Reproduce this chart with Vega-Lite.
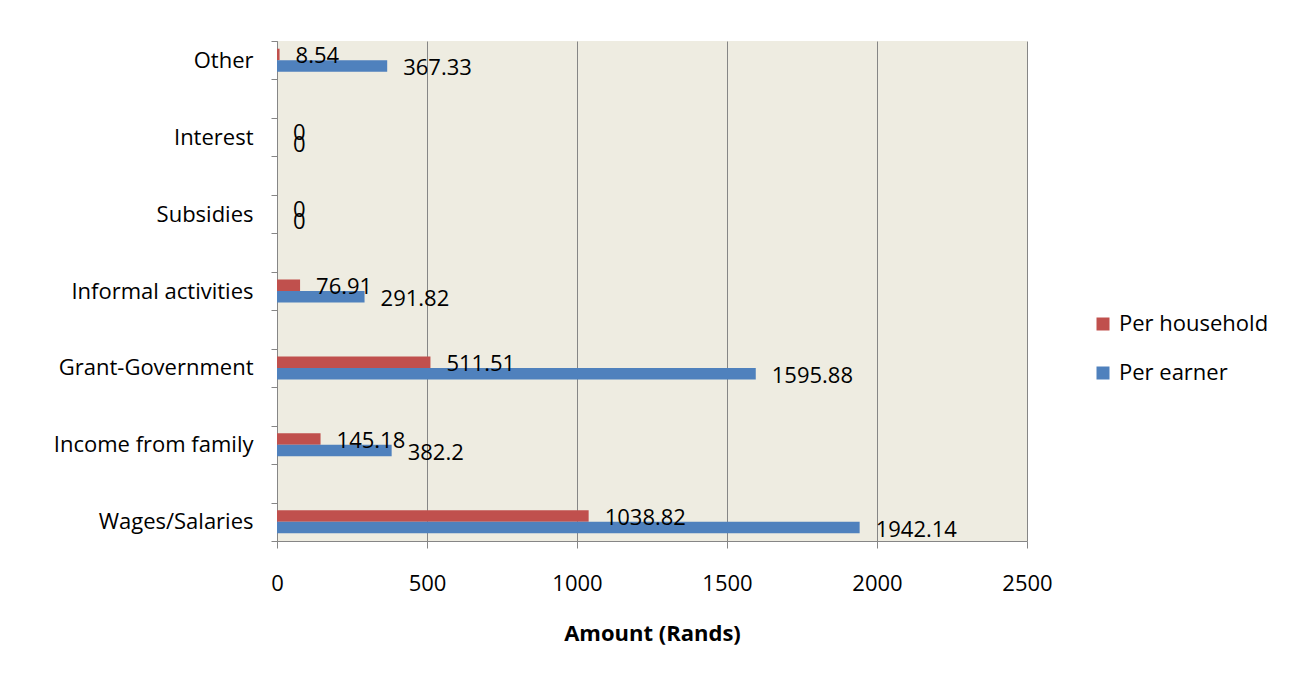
{
  "$schema": "https://vega.github.io/schema/vega-lite/v6.json",
  "width": 750,
  "height": 500,
  "autosize": {"type": "none"},
  "padding": {"left": 277, "top": 41, "right": 262, "bottom": 138},
  "background": "white",
  "config": {
    "view": {"fill": "#EEECE1", "stroke": null},
    "font": "Open Sans"
  },
  "data": {
    "values": [
      {"category": "Other", "series": "Per household", "value": 8.54},
      {"category": "Other", "series": "Per earner", "value": 367.33},
      {"category": "Interest", "series": "Per household", "value": 0},
      {"category": "Interest", "series": "Per earner", "value": 0},
      {"category": "Subsidies", "series": "Per household", "value": 0},
      {"category": "Subsidies", "series": "Per earner", "value": 0},
      {"category": "Informal activities", "series": "Per household", "value": 76.91},
      {"category": "Informal activities", "series": "Per earner", "value": 291.82},
      {"category": "Grant-Government", "series": "Per household", "value": 511.51},
      {"category": "Grant-Government", "series": "Per earner", "value": 1595.88},
      {"category": "Income from family", "series": "Per household", "value": 145.18},
      {"category": "Income from family", "series": "Per earner", "value": 382.2},
      {"category": "Wages/Salaries", "series": "Per household", "value": 1038.82},
      {"category": "Wages/Salaries", "series": "Per earner", "value": 1942.14}
    ]
  },
  "encoding": {
    "y": {
      "field": "category",
      "type": "nominal",
      "scale": {
        "domain": ["Other", "gap1", "Interest", "gap2", "Subsidies", "gap3", "Informal activities", "gap4", "Grant-Government", "gap5", "Income from family", "gap6", "Wages/Salaries"],
        "paddingInner": 0,
        "paddingOuter": 0
      },
      "axis": {
        "title": null,
        "tickBand": "extent",
        "ticks": true,
        "tickSize": 6,
        "tickColor": "#868686",
        "domainColor": "#868686",
        "labelFontSize": 22,
        "labelColor": "#000000",
        "labelPadding": 18,
        "labelLimit": 0,
        "grid": false,
        "labelExpr": "slice(datum.label, 0, 3) == 'gap' ? '' : datum.label"
      }
    },
    "yOffset": {
      "field": "series",
      "type": "nominal",
      "scale": {"domain": ["Per household", "Per earner"], "paddingInner": 0, "paddingOuter": 0.67}
    },
    "x": {
      "field": "value",
      "type": "quantitative",
      "scale": {"domain": [0, 2500], "nice": false},
      "axis": {
        "values": [0, 500, 1000, 1500, 2000, 2500],
        "format": "d",
        "labelFlush": false,
        "labelOverlap": false,
        "grid": true,
        "gridColor": "#868686",
        "gridOpacity": 1,
        "domainColor": "#868686",
        "tickColor": "#868686",
        "tickSize": 7,
        "labelFontSize": 22,
        "labelColor": "#000000",
        "labelPadding": 25,
        "title": "Amount (Rands)",
        "titleFontSize": 22,
        "titleFontWeight": "bold",
        "titleColor": "#000000",
        "titlePadding": 29
      }
    }
  },
  "layer": [
    {
      "mark": {"type": "bar"},
      "encoding": {
        "color": {
          "field": "series",
          "type": "nominal",
          "scale": {"domain": ["Per household", "Per earner"], "range": ["#C0504D", "#4F81BD"]},
          "legend": {
            "title": null,
            "orient": "none",
            "legendX": 815,
            "legendY": 272,
            "symbolType": "square",
            "symbolSize": 169,
            "symbolStrokeWidth": 0,
            "labelFontSize": 22,
            "labelColor": "#000000",
            "labelOffset": 5,
            "labelLimit": 0,
            "rowPadding": 27
          }
        }
      }
    },
    {
      "mark": {"type": "text", "align": "left", "baseline": "middle", "dx": 16, "dy": 2, "fontSize": 22, "color": "#000000"},
      "encoding": {
        "text": {"field": "value", "type": "quantitative", "format": "~f"}
      }
    }
  ]
}
